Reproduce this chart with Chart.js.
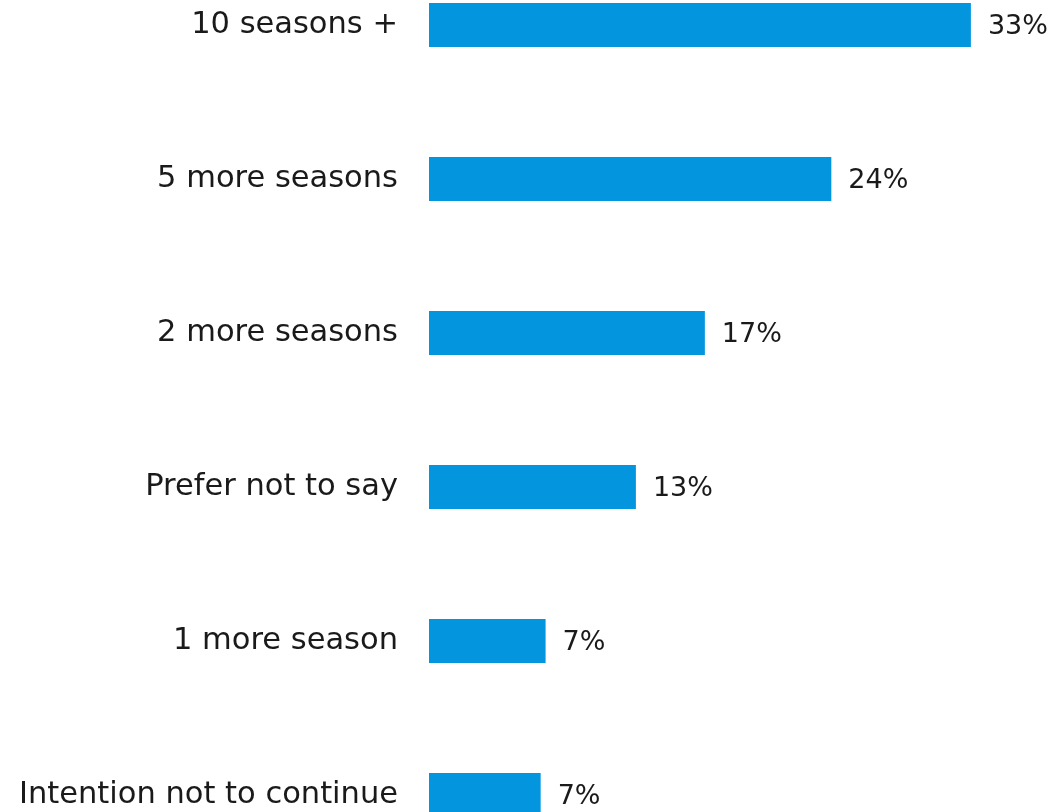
<!DOCTYPE html>
<html>
<head>
<meta charset="utf-8">
<script src="https://cdn.jsdelivr.net/npm/chart.js@4/dist/chart.umd.min.js"></script>
<style>
html,body{margin:0;padding:0;background:#fff;overflow:hidden;width:1053px;height:812px;}
#c{position:absolute;left:0;top:-52px;width:1053px;height:924px;}
</style>
</head>
<body>
<canvas id="c" width="1053" height="924"></canvas>
<script>
const categories = ["10 seasons +", "5 more seasons", "2 more seasons", "Prefer not to say", "1 more season", "Intention not to continue"];
const values = [33.0, 24.5, 16.8, 12.6, 7.1, 6.8];
const valueLabels = ["33%", "24%", "17%", "13%", "7%", "7%"];

const FONT = "DejaVu Sans";
const valueLabelPlugin = {
  id: 'valueLabels',
  afterDatasetsDraw(chart) {
    const ctx = chart.ctx;
    const meta = chart.getDatasetMeta(0);
    ctx.save();
    ctx.font = "27px '" + FONT + "'";
    ctx.fillStyle = "#1a1a1a";
    ctx.textAlign = "left";
    ctx.textBaseline = "middle";
    meta.data.forEach((bar, i) => {
      ctx.fillText(valueLabels[i], bar.x + 17, bar.y + 2);
    });
    ctx.restore();
  }
};

new Chart(document.getElementById('c'), {
  type: 'bar',
  data: {
    labels: categories,
    datasets: [{
      data: values,
      backgroundColor: '#0396DF',
      borderWidth: 0,
      categoryPercentage: 1,
      barPercentage: 44 / 154
    }]
  },
  options: {
    indexAxis: 'y',
    responsive: false,
    maintainAspectRatio: false,
    devicePixelRatio: 1,
    animation: false,
    layout: { padding: 0, autoPadding: false },
    plugins: { legend: { display: false }, tooltip: { enabled: false } },
    scales: {
      x: {
        display: false,
        min: 0,
        max: 38
      },
      y: {
        grid: { display: false, drawTicks: false },
        border: { display: false },
        ticks: {
          padding: 31,
          color: '#1a1a1a',
          font: { family: FONT, size: 30.5 }
        },
        afterFit(scale) { scale.width = 429; scale.paddingTop = 0; scale.paddingBottom = 0; }
      }
    }
  },
  plugins: [valueLabelPlugin]
});
</script>
</body>
</html>
